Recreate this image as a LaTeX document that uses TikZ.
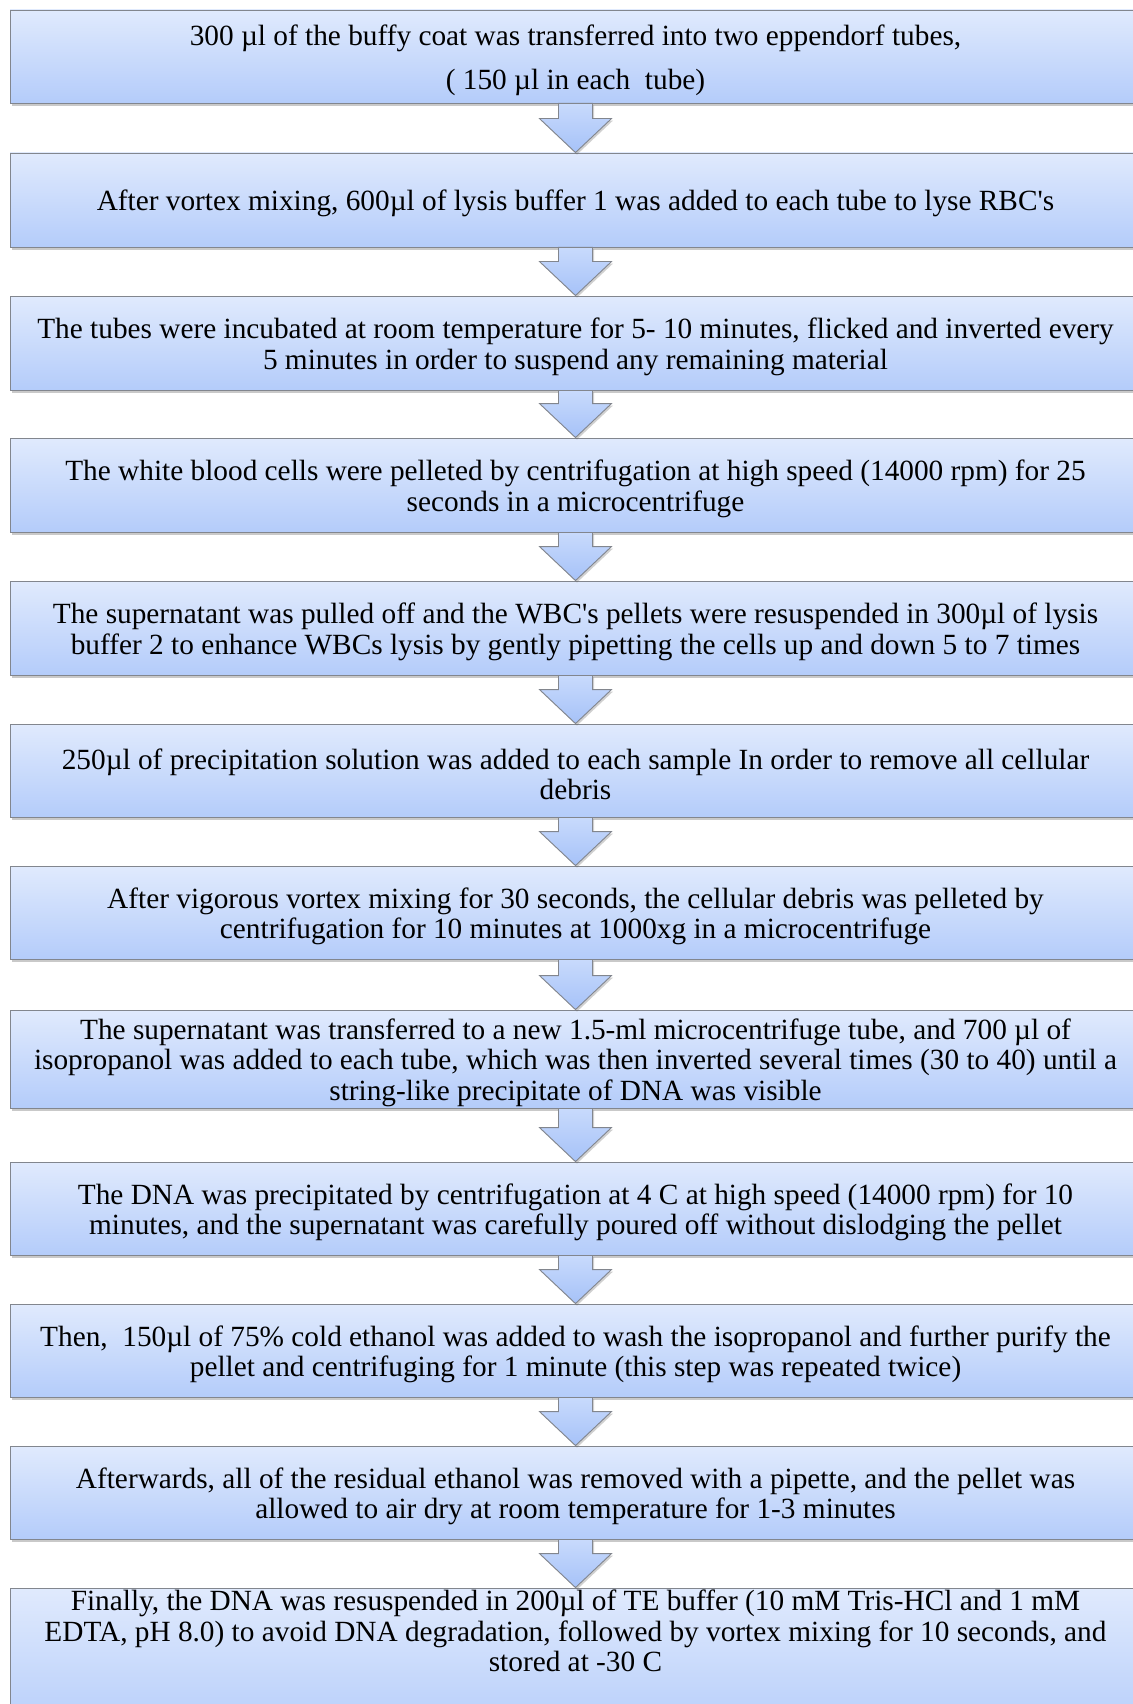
\documentclass[tikz,border=0pt]{standalone}
\usepackage{fontspec}
\setmainfont{Liberation Serif}[Ligatures=TeXOff]
\usetikzlibrary{calc,shadows}
\definecolor{boxtop}{RGB}{224,234,253}
\definecolor{boxbot}{RGB}{180,204,250}
\definecolor{arrtop}{RGB}{200,218,252}
\definecolor{arrbot}{RGB}{166,194,248}
\definecolor{edge}{RGB}{130,134,142}
% taller first line, so that the text sits a little lower in its box
\newcommand\topline{\rule{0pt}{28pt}}
\tikzset{
  stepbox/.style={draw=edge, line width=0.9pt, top color=boxtop, bottom color=boxbot,
    minimum width=1131pt, inner sep=0pt, align=center,
    font=\fontsize{29.3}{30.5}\selectfont,
    drop shadow={shadow xshift=1.5pt, shadow yshift=-3pt, opacity=0.35, fill=black!60}},
  steptext/.style={inner sep=0pt, align=center, font=\fontsize{29.3}{30.5}\selectfont},
  blockarrow/.style={draw=edge, line width=0.9pt, top color=arrtop, bottom color=arrbot,
    line join=miter,
    drop shadow={shadow xshift=1.5pt, shadow yshift=-2pt, opacity=0.3, fill=black!60}}
}
% block arrow from the bottom of one box to the top of the next
\newcommand\flowarrow[2]{%
  \path let \p1=(#1.south), \p2=(#2.north) in
    [blockarrow] (\x1-17pt,\y1) -- (\x1+17pt,\y1) -- (\x1+17pt,\y2+34pt)
    -- (\x1+36pt,\y2+34pt) -- (\x1,\y2) -- (\x1-36pt,\y2+34pt)
    -- (\x1-17pt,\y2+34pt) -- cycle;}
\begin{document}
\begin{tikzpicture}[x=1pt,y=-1pt]
\fill[white] (0,0) rectangle (1132,1704);
\useasboundingbox (0,0) rectangle (1132,1704);

\node[stepbox, minimum height=93pt] (b1) at (575.5,56.5)
  {\topline 300 µl of the buffy coat was transferred into two eppendorf tubes,\\[13.5pt]
   ( 150 µl in each \ tube)};
\node[stepbox, minimum height=94pt] (b2) at (575.5,200)
  {\topline After vortex mixing, 600µl of lysis buffer 1 was added to each tube to lyse RBC's};
\node[stepbox, minimum height=94pt] (b3) at (575.5,343)
  {\topline The tubes were incubated at room temperature for 5- 10 minutes, flicked and inverted every\\
   5 minutes in order to suspend any remaining material};
\node[stepbox, minimum height=94pt] (b4) at (575.5,485)
  {\topline The white blood cells were pelleted by centrifugation at high speed (14000 rpm) for 25\\
   seconds in a microcentrifuge};
\node[stepbox, minimum height=94pt] (b5) at (575.5,628)
  {\topline The supernatant was pulled off and the WBC's pellets were resuspended in 300µl of lysis\\
   buffer 2 to enhance WBCs lysis by gently pipetting the cells up and down 5 to 7 times};
\node[stepbox, minimum height=93pt] (b6) at (575.5,770.5)
  {\topline 250µl of precipitation solution was added to each sample In order to remove all cellular\\
   debris};
\node[stepbox, minimum height=93pt] (b7) at (575.5,912.5)
  {\topline After vigorous vortex mixing for 30 seconds, the cellular debris was pelleted by\\
   centrifugation for 10 minutes at 1000xg in a microcentrifuge};
\node[stepbox, minimum height=98pt] (b8) at (575.5,1059)
  {\topline The supernatant was transferred to a new 1.5-ml microcentrifuge tube, and 700 µl of\\
   isopropanol was added to each tube, which was then inverted several times (30 to 40) until a\\
   string-like precipitate of DNA was visible};
\node[stepbox, minimum height=93pt] (b9) at (575.5,1208.5)
  {\topline The DNA was precipitated by centrifugation at 4 C at high speed (14000 rpm) for 10\\
   minutes, and the supernatant was carefully poured off without dislodging the pellet};
\node[stepbox, minimum height=93pt] (b10) at (575.5,1350.5)
  {\topline Then, \ 150µl of 75\% cold ethanol was added to wash the isopropanol and further purify the\\
   pellet and centrifuging for 1 minute (this step was repeated twice)};
\node[stepbox, minimum height=93pt] (b11) at (575.5,1492.5)
  {\topline Afterwards, all of the residual ethanol was removed with a pipette, and the pellet was\\
   allowed to air dry at room temperature for 1-3 minutes};
\node[stepbox, minimum height=152pt] (b12) at (575.5,1664) {};
\node[steptext] (t12) at (575.5,1631)
  {Finally, the DNA was resuspended in 200µl of TE buffer (10 mM Tris-HCl and 1 mM\\
   EDTA, pH 8.0) to avoid DNA degradation, followed by vortex mixing for 10 seconds, and\\
   stored at -30 C};

\foreach \a/\b in {b1/b2,b2/b3,b3/b4,b4/b5,b5/b6,b6/b7,b7/b8,b8/b9,b9/b10,b10/b11,b11/b12}
  {\flowarrow{\a}{\b}}
\end{tikzpicture}
\end{document}
